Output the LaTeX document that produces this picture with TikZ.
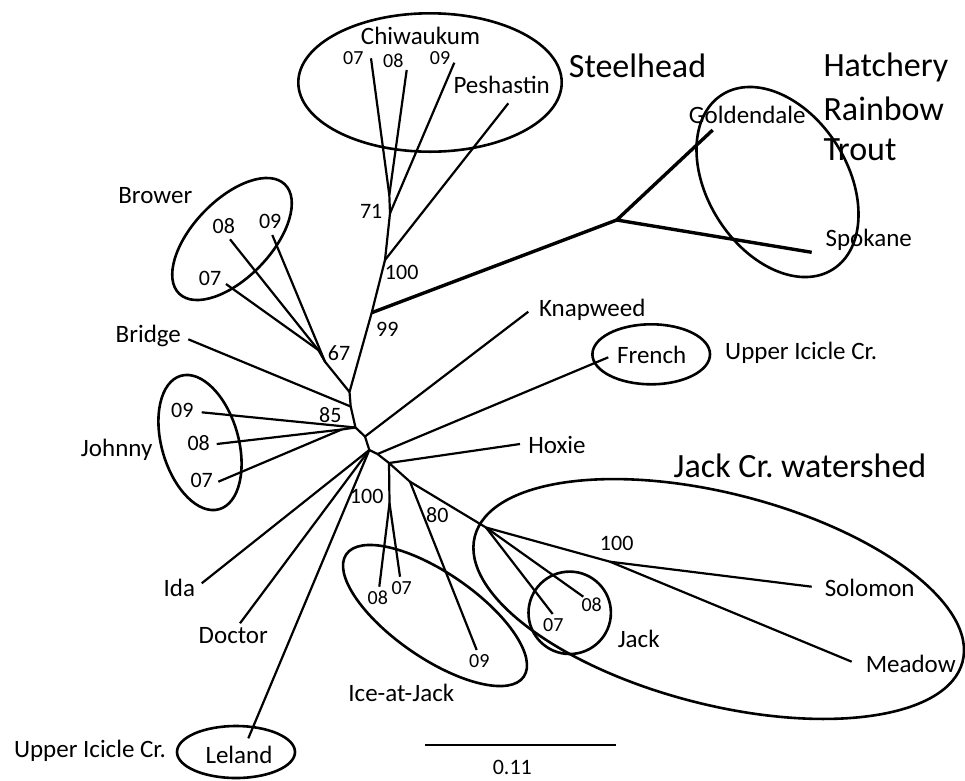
\documentclass[tikz,border=0pt]{standalone}
\usepackage{fontspec}
\setmainfont{Carlito}
\begin{document}
\begin{tikzpicture}[x=1pt,y=1pt,
  br/.style={line width=2.2pt, line join=round},
  brb/.style={line width=3.4pt, line join=round},
  grp/.style={line width=2.6pt},
  lbl/.style={inner sep=0pt, text height=16pt, text depth=0pt, font=\fontsize{25}{30}\selectfont},
  sml/.style={inner sep=0pt, text height=12.9pt, text depth=0pt, font=\fontsize{20}{24}\selectfont},
  smb/.style={inner sep=0pt, text height=14.2pt, text depth=0pt, font=\fontsize{22}{26}\selectfont},
  hdl/.style={inner sep=0pt, text height=21.9pt, text depth=0pt, font=\fontsize{34}{40}\selectfont}]
\useasboundingbox (0,0) rectangle (965,-780);

% ---- tree coordinates
\coordinate (n99) at (371.7,-312.7);
\coordinate (hj) at (616.7,-220);
\coordinate (gold) at (712.7,-130);
\coordinate (spok) at (811.7,-252.3);
\coordinate (n100s) at (385,-260);
\coordinate (pesh) at (508.3,-103.3);
\coordinate (n71) at (390,-213.3);
\coordinate (c09) at (454.3,-62.7);
\coordinate (n78) at (389.3,-195);
\coordinate (c07) at (371,-58.3);
\coordinate (c08) at (406.7,-70);
\coordinate (nA) at (349.5,-392);
\coordinate (nB) at (350.7,-406.5);
\coordinate (nJ) at (355.5,-427.5);
\coordinate (nK) at (365,-436.5);
\coordinate (nC) at (369.3,-450);
\coordinate (nD) at (377.5,-454);
\coordinate (nE) at (389,-463);
\coordinate (nG) at (410,-481.7);
\coordinate (nW) at (486,-527.5);
\coordinate (nS) at (610,-561.7);
\coordinate (sol) at (811.7,-586.7);
\coordinate (mea) at (851.7,-661.7);
\coordinate (j07) at (552.7,-614);
\coordinate (j08) at (583.3,-596.7);
\coordinate (i09) at (476.7,-650);
\coordinate (n100i) at (389.5,-503.3);
\coordinate (i08) at (379.3,-586.7);
\coordinate (i07) at (400,-576.7);
\coordinate (hox) at (520,-444);
\coordinate (fre) at (608.3,-357.3);
\coordinate (knap) at (528.3,-311.7);
\coordinate (ida) at (201.7,-583.3);
\coordinate (doc) at (240,-623.3);
\coordinate (lel) at (248.3,-738.3);
\coordinate (n0807) at (341.7,-429.5);
\coordinate (jo09) at (201.7,-412.3);
\coordinate (jo08) at (216.7,-444);
\coordinate (jo07) at (218.3,-481.7);
\coordinate (brg) at (188.3,-339.3);
\coordinate (n67) at (325,-361.7);
\coordinate (nb78) at (318.3,-350);
\coordinate (b07) at (226,-284);
\coordinate (b08) at (230,-239.3);
\coordinate (b09) at (272.3,-235);
\coordinate (sbl) at (425,-745);
\coordinate (sbr) at (616,-745);

% ---- branches
\draw[brb] (gold) -- (hj) -- (spok);
\draw[brb] (hj) -- (n99);
\draw[br] (c07) -- (n78) -- (n71) -- (n100s) -- (n99) -- (nA) -- (nB) -- (nJ) -- (nK) -- (nC) -- (nD) -- (nE) -- (nG) -- (nW) -- (nS) -- (sol);
\draw[br] (c08) -- (n78);
\draw[br] (c09) -- (n71);
\draw[br] (pesh) -- (n100s);
\draw[br] (b07) -- (nb78) -- (n67) -- (nA);
\draw[br] (b08) -- (nb78);
\draw[br] (b09) -- (n67);
\draw[br] (brg) -- (nB);
\draw[br] (jo08) -- (n0807) -- (nJ);
\draw[br] (jo07) -- (n0807);
\draw[br] (jo09) -- (nJ);
\draw[br] (knap) -- (nK);
\draw[br] (ida) -- (nC);
\draw[br] (doc) -- (nC);
\draw[br] (lel) -- (nC);
\draw[br] (fre) -- (nD);
\draw[br] (hox) -- (nE);
\draw[br] (nE) -- (n100i) -- (i08);
\draw[br] (n100i) -- (i07);
\draw[br] (nG) -- (i09);
\draw[br] (nW) -- (j07);
\draw[br] (nW) -- (j08);
\draw[br] (nS) -- (mea);
\draw[line width=1.4pt] (sbl) -- (sbr);

% ---- group outlines
\draw[grp, shift={(430,-82.5)}] (0,0) ellipse [x radius=131.7pt, y radius=69.2pt];
\draw[grp, shift={(777.5,-182)}, rotate=-57.6] (0,0) ellipse [x radius=103.4pt, y radius=70pt];
\draw[grp, shift={(232,-239)}, rotate=46] (0,0) ellipse [x radius=76pt, y radius=39pt];
\draw[grp, shift={(200,-442.5)}, rotate=16] (0,0) ellipse [x radius=38.4pt, y radius=69.4pt];
\draw[grp, shift={(236,-752)}] (0,0) ellipse [x radius=59pt, y radius=26pt];
\draw[grp, shift={(651.2,-354.3)}] (0,0) ellipse [x radius=58.8pt, y radius=30pt];
\draw[grp, shift={(435,-615.5)}, rotate=-34.6] (0,0) ellipse [x radius=107.8pt, y radius=42.6pt];
\draw[grp] (569.7,-612.8) circle [radius=41.2pt];
\draw[grp, shift={(718.7,-599)}, rotate=-14.4] (0,0) ellipse [x radius=251.8pt, y radius=105.6pt];

% ---- labels
\node[lbl] (chiw) at (420.5,-36.7) {Chiwaukum};
\node[sml] (lc07) at (353.3,-58.3) {07};
\node[sml] (lc08) at (393.3,-61) {08};
\node[sml] (lc09) at (440,-58.3) {09};
\node[lbl] (lpesh) at (501.7,-85.7) {Peshastin};
\node[smb] (b71) at (371.2,-211.7) {71};
\node[smb] (b100s) at (401.7,-272.3) {100};
\node[smb] (b99) at (387.3,-329.7) {99};
\node[smb] (b67) at (339,-353.3) {67};
\node[smb] (b85) at (330.3,-415.3) {85};
\node[lbl] (lbrower) at (155.3,-195) {Brower};
\node[smb] (lb08) at (223.8,-226.3) {08};
\node[smb] (lb09) at (270.2,-221.7) {09};
\node[smb] (lb07) at (210,-278.7) {07};
\node[lbl] (lbridge) at (148.3,-334.7) {Bridge};
\node[lbl] (ljohnny) at (116.7,-448.3) {Johnny};
\node[smb] (ljo09) at (182.3,-410.7) {09};
\node[smb] (ljo08) at (198.7,-443.3) {08};
\node[smb] (ljo07) at (201.7,-480.3) {07};
\node[lbl] (lknap) at (592.3,-308) {Knapweed};
\node[lbl] (lfre) at (651.7,-355.3) {French};
\node[lbl, anchor=west] (luic1) at (725,-351.7) {Upper Icicle Cr.};
\node[lbl] (lhox) at (557,-445.3) {Hoxie};
\node[hdl] (ljcw) at (800,-467) {Jack Cr.\ watershed};
\node[smb] (b100j) at (616.7,-543.7) {100};
\node[lbl] (lsol) at (869.7,-588.7) {Solomon};
\node[lbl] (lmea) at (910.7,-664.7) {Meadow};
\node[lbl] (ljack) at (638.7,-639.3) {Jack};
\node[sml] (lj07) at (553.3,-625.3) {07};
\node[sml] (lj08) at (591.7,-605.3) {08};
\node[sml] (li08) at (377.8,-597.7) {08};
\node[sml] (li07) at (401.7,-588) {07};
\node[sml] (li09) at (479.3,-661) {09};
\node[smb] (b80) at (437.3,-515.3) {80};
\node[smb] (b100i) at (366.7,-496.7) {100};
\node[lbl] (lice) at (401.3,-693.3) {Ice-at-Jack};
\node[smb] (lscale) at (512.3,-767) {0.11};
\node[lbl] (lida) at (179.3,-588.7) {Ida};
\node[lbl] (ldoc) at (233.3,-635.7) {Doctor};
\node[lbl] (llel) at (239,-755.3) {Leland};
\node[lbl] (luic2) at (90,-749) {Upper Icicle Cr.};
\node[lbl] (lgold) at (747.3,-115) {Goldendale};
\node[lbl] (lspok) at (868.7,-238.3) {Spokane};
\node[hdl] (lsteel) at (637.5,-66.7) {Steelhead};
\node[hdl, anchor=west] (lhat) at (823.3,-66) {Hatchery};
\node[hdl, anchor=west] (lrain) at (823.3,-109.5) {Rainbow};
\node[hdl, anchor=west] (ltrout) at (823.3,-150) {Trout};
\end{tikzpicture}
\end{document}
